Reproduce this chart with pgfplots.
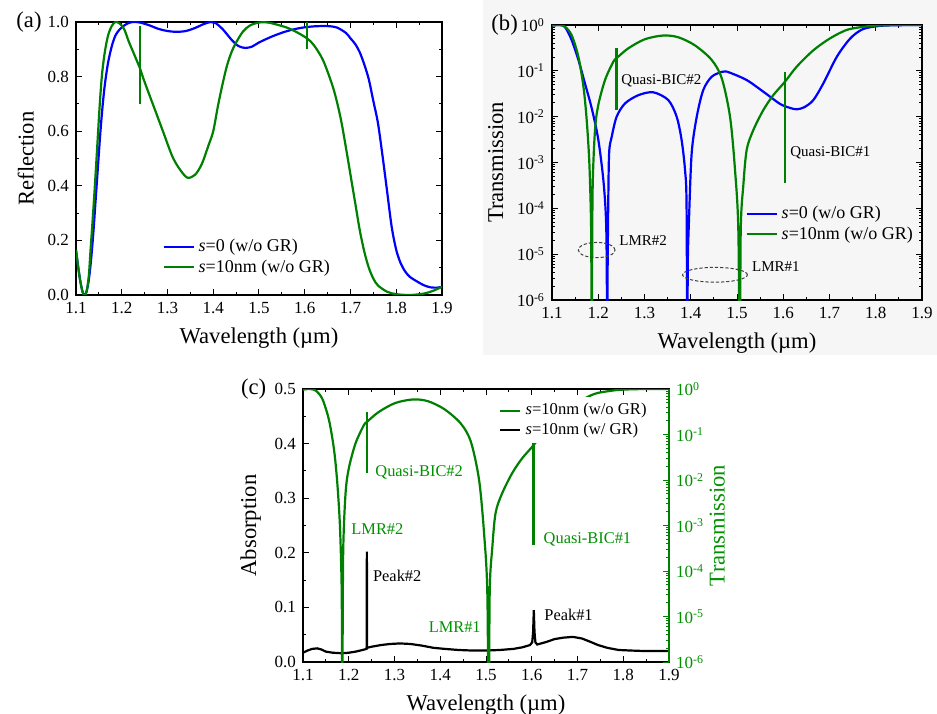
\documentclass[border=0pt]{standalone}
\usepackage{pgfplots}
\pgfplotsset{compat=1.18}
\usepackage{pgfplotstable}
\usepackage{fontspec}
\setmainfont{Liberation Serif}

\definecolor{cblue}{RGB}{0,0,255}
\definecolor{cgreen}{RGB}{0,128,0}
\definecolor{tgreen}{RGB}{0,145,0}
\definecolor{panelgray}{RGB}{246,246,246}

% (a) reflection
\pgfplotstableread{
x y
1.100 0.165
1.105 0.100
1.110 0.045
1.115 0.008
1.119 0.000
1.123 0.012
1.128 0.055
1.133 0.130
1.138 0.230
1.143 0.350
1.148 0.470
1.153 0.590
1.158 0.690
1.163 0.770
1.170 0.850
1.178 0.910
1.186 0.950
1.195 0.972
1.205 0.987
1.215 0.996
1.225 1.000
1.240 0.998
1.260 0.988
1.280 0.975
1.300 0.967
1.320 0.964
1.340 0.967
1.360 0.978
1.380 0.993
1.395 1.000
1.405 0.996
1.420 0.975
1.440 0.935
1.455 0.912
1.470 0.905
1.485 0.910
1.500 0.925
1.530 0.948
1.560 0.966
1.590 0.978
1.620 0.984
1.650 0.985
1.670 0.980
1.690 0.960
1.700 0.940
1.710 0.920
1.720 0.890
1.730 0.845
1.740 0.790
1.750 0.710
1.760 0.630
1.770 0.510
1.780 0.380
1.790 0.250
1.800 0.165
1.810 0.115
1.820 0.085
1.830 0.066
1.845 0.050
1.860 0.036
1.875 0.028
1.890 0.027
1.900 0.030
}\reflA
\pgfplotstableread{
x y
1.100 0.165
1.105 0.100
1.110 0.045
1.115 0.008
1.119 0.000
1.123 0.012
1.128 0.070
1.132 0.170
1.137 0.290
1.142 0.420
1.147 0.560
1.152 0.700
1.157 0.810
1.163 0.890
1.170 0.950
1.178 0.985
1.186 1.000
1.195 0.995
1.205 0.975
1.215 0.930
1.225 0.890
1.235 0.850
1.240 0.830
1.250 0.780
1.270 0.690
1.290 0.600
1.310 0.510
1.325 0.465
1.343 0.430
1.360 0.440
1.375 0.480
1.390 0.550
1.400 0.600
1.410 0.690
1.420 0.770
1.430 0.840
1.440 0.890
1.450 0.925
1.465 0.965
1.480 0.987
1.500 0.998
1.520 0.998
1.540 0.990
1.560 0.980
1.580 0.965
1.605 0.940
1.620 0.915
1.640 0.860
1.660 0.770
1.670 0.710
1.680 0.635
1.690 0.540
1.700 0.440
1.710 0.340
1.720 0.240
1.730 0.160
1.740 0.100
1.750 0.060
1.760 0.035
1.780 0.012
1.800 0.003
1.830 0.000
1.860 0.005
1.880 0.015
1.900 0.030
}\reflB

% (b) transmission
\pgfplotstableread{
x y
1.100 0.98
1.115 1.0
1.125 0.97
1.130 0.85
1.1425 0.47
1.157 0.174
1.171 0.054
1.186 0.0151
1.200 3.2e-3
1.211 4.2e-4
1.2168 5.6e-5
1.2185 3.2e-6
1.2192 1e-8
1.2200 2e-6
1.2215 1e-4
1.2235 1.6e-3
1.229 3.6e-3
1.2398 0.010
1.258 0.0195
1.287 0.0295
1.319 0.034
1.3515 0.023
1.3695 0.010
1.380 3.2e-3
1.3876 6.9e-4
1.391 1e-4
1.3926 1e-8
1.3935 5e-6
1.3962 5.6e-5
1.402 1.6e-3
1.413 0.010
1.427 0.038
1.445 0.074
1.467 0.095
1.475 0.097
1.4849 0.091
1.521 0.063
1.557 0.035
1.593 0.019
1.615 0.0155
1.629 0.0145
1.645 0.016
1.665 0.023
1.687 0.054
1.716 0.204
1.745 0.51
1.772 0.81
1.808 0.955
1.850 0.99
1.900 1.0
}\transA
\pgfplotstableread{
x y
1.100 0.97
1.115 1.0
1.128 0.92
1.1425 0.60
1.157 0.204
1.168 0.045
1.175 8.5e-3
1.1807 1e-3
1.1843 5.6e-5
1.1852 3e-6
1.1858 1e-8
1.1866 3e-6
1.188 3.2e-4
1.193 5.1e-3
1.200 0.0178
1.2146 0.063
1.2326 0.158
1.240 0.19
1.265 0.31
1.301 0.49
1.3407 0.59
1.373 0.54
1.409 0.36
1.445 0.174
1.467 0.069
1.4849 0.010
1.4957 6.9e-4
1.5030 3e-5
1.5060 1e-8
1.5080 3e-5
1.5137 3.2e-4
1.521 1.9e-3
1.5353 5.1e-3
1.557 0.014
1.5785 0.0295
1.6038 0.058
1.629 0.123
1.665 0.28
1.701 0.51
1.737 0.78
1.772 0.91
1.800 0.97
1.850 1.0
1.900 1.0
}\transB

% (c) absorption with graphene
\pgfplotstableread{
x y
1.100 0.017
1.110 0.021
1.120 0.024
1.131 0.025
1.140 0.023
1.150 0.019
1.165 0.017
1.185 0.016
1.200 0.017
1.215 0.019
1.230 0.022
1.2390 0.024
1.2396 0.202
1.2402 0.026
1.250 0.028
1.270 0.031
1.290 0.033
1.312 0.034
1.335 0.033
1.360 0.030
1.385 0.026
1.410 0.024
1.440 0.022
1.470 0.021
1.500 0.021
1.530 0.022
1.560 0.024
1.580 0.027
1.596 0.031
1.601 0.036
1.603 0.055
1.6045 0.095
1.606 0.055
1.608 0.036
1.612 0.032
1.633 0.037
1.650 0.042
1.669 0.0446
1.690 0.046
1.710 0.043
1.728 0.037
1.745 0.031
1.765 0.026
1.790 0.022
1.816 0.021
1.850 0.020
1.900 0.020
}\absC

\pgfplotsset{
  panel/.style={
    scale only axis,
    xmin=1.1, xmax=1.9,
    xtick={1.1,1.2,1.3,1.4,1.5,1.6,1.7,1.8,1.9},
    minor x tick num=1,
    tick align=inside,
    major tick length=3pt, minor tick length=1.6pt,
    axis line style={line width=0.6pt},
    every tick/.style={black, line width=0.5pt},
    tick label style={font=\fontsize{8.5}{10}\selectfont},
    label style={font=\fontsize{11.3}{13}\selectfont},
    xlabel={Wavelength (µm)},
    xticklabel style={/pgf/number format/.cd, fixed, fixed zerofill, precision=1, assume math mode=true},
    legend cell align=left,
    legend style={draw=none, fill=none, inner sep=0pt,
      font=\fontsize{9}{10.5}\selectfont, row sep=-1.5pt},
  },
  lin/.style={
    yticklabel style={/pgf/number format/.cd, fixed, fixed zerofill, precision=1, assume math mode=true},
  },
  curve/.style={line width=1.1pt, smooth, tension=0.5},
  lline/.style={legend image code/.code={\draw[##1] (0pt,0pt) -- (15pt,0pt);}},
}

\begin{document}
\begin{tikzpicture}
\useasboundingbox (0,0) rectangle (468.5pt,356.5pt);
\fill[panelgray] (241.5pt,179pt) rectangle (468.5pt,356.5pt);

%---------------- (a)
\begin{axis}[panel, lin, lline, at={(38pt,209pt)}, width=183pt, height=136.5pt,
  ymin=0, ymax=1, ytick={0,0.2,0.4,0.6,0.8,1}, minor y tick num=1,
  ylabel={Reflection},
  legend style={at={(0.235,0.139)}, anchor=west}]
\addplot[curve, cblue] table {\reflA};
\addlegendentry{\textit{s}=0 (w/o GR)}
\addplot[curve, cgreen] table {\reflB};
\addlegendentry{\textit{s}=10nm (w/o GR)}
\addplot[cgreen, line width=1.1pt, forget plot] coordinates {(1.240,0.987) (1.240,0.700)};
\addplot[cgreen, line width=1.1pt, forget plot] coordinates {(1.6055,1.0) (1.6055,0.900)};
\end{axis}
\node[font=\fontsize{11.3}{13}\selectfont] at (14.5pt,345.5pt) {(a)};

%---------------- (b)
\begin{axis}[panel, lline, at={(276pt,206.5pt)}, width=185pt, height=137.5pt,
  ymode=log, ymin=1e-6, ymax=1,
  ytick={1e-6,1e-5,1e-4,1e-3,1e-2,1e-1,1},
  minor ytick={2e-6,3e-6,4e-6,5e-6,6e-6,7e-6,8e-6,9e-6,
    2e-5,3e-5,4e-5,5e-5,6e-5,7e-5,8e-5,9e-5,
    2e-4,3e-4,4e-4,5e-4,6e-4,7e-4,8e-4,9e-4,
    2e-3,3e-3,4e-3,5e-3,6e-3,7e-3,8e-3,9e-3,
    0.02,0.03,0.04,0.05,0.06,0.07,0.08,0.09,
    0.2,0.3,0.4,0.5,0.6,0.7,0.8,0.9},
  yticklabels={10\textsuperscript{-6},10\textsuperscript{-5},10\textsuperscript{-4},10\textsuperscript{-3},10\textsuperscript{-2},10\textsuperscript{-1},10\textsuperscript{0}},
  ylabel={Transmission},
  legend style={at={(0.522,0.276)}, anchor=west}]
\addplot[curve, cblue] table {\transA};
\addlegendentry{\textit{s}=0 (w/o GR)}
\addplot[curve, cgreen] table {\transB};
\addlegendentry{\textit{s}=10nm (w/o GR)}
\addplot[cgreen, line width=1.1pt, forget plot] coordinates {(1.2395,0.31) (1.2395,0.0141)};
\addplot[cgreen, line width=1.1pt, forget plot] coordinates {(1.6038,0.095) (1.6038,3.5e-4)};
\node[anchor=west, inner sep=0pt, font=\fontsize{7.5}{9}\selectfont] at (axis cs:1.249,0.060) {Quasi-BIC\#2};
\node[anchor=west, inner sep=0pt, font=\fontsize{7.5}{9}\selectfont] at (axis cs:1.6146,1.6e-3) {Quasi-BIC\#1};
\node[anchor=west, inner sep=0pt, font=\fontsize{7.5}{9}\selectfont] at (axis cs:1.245,2.0e-5) {LMR\#2};
\node[anchor=west, inner sep=0pt, font=\fontsize{7.5}{9}\selectfont] at (axis cs:1.532,5.4e-6) {LMR\#1};
\draw[black!75, line width=0.5pt, dash pattern=on 1.6pt off 1pt] (axis cs:1.1966,1.23e-5) ellipse [x radius=9.2pt, y radius=3.8pt];
\draw[black!75, line width=0.5pt, dash pattern=on 1.6pt off 1pt] (axis cs:1.4524,3.55e-6) ellipse [x radius=16.2pt, y radius=3.7pt];
\end{axis}
\node[font=\fontsize{11.3}{13}\selectfont] at (252.3pt,344pt) {(b)};

%---------------- (c)
\begin{axis}[panel, lin, at={(151.5pt,25.5pt)}, width=183pt, height=136.5pt,
  ymin=0, ymax=0.5, ytick={0,0.1,0.2,0.3,0.4,0.5}, minor y tick num=1,
  ytick pos=left, ylabel={Absorption}]
\addplot[black, line width=1.1pt] table {\absC};
\node[anchor=west, inner sep=0pt, text=tgreen, font=\fontsize{8.2}{10}\selectfont] at (axis cs:1.2574,0.347) {Quasi-BIC\#2};
\node[anchor=west, inner sep=0pt, text=tgreen, font=\fontsize{8.2}{10}\selectfont] at (axis cs:1.205,0.2436) {LMR\#2};
\node[anchor=west, inner sep=0pt, text=tgreen, font=\fontsize{8.2}{10}\selectfont] at (axis cs:1.374,0.0647) {LMR\#1};
\node[anchor=west, inner sep=0pt, text=tgreen, font=\fontsize{8.2}{10}\selectfont] at (axis cs:1.6253,0.225) {Quasi-BIC\#1};
\node[anchor=west, inner sep=0pt, font=\fontsize{8.2}{10}\selectfont] at (axis cs:1.2523,0.158) {Peak\#2};
\node[anchor=west, inner sep=0pt, font=\fontsize{8.2}{10}\selectfont] at (axis cs:1.6268,0.087) {Peak\#1};
\end{axis}
\begin{axis}[scale only axis, at={(151.5pt,25.5pt)}, width=183pt, height=136.5pt,
  xmin=1.1, xmax=1.9,
  ymode=log, ymin=1e-6, ymax=1,
  ytick={1e-6,1e-5,1e-4,1e-3,1e-2,1e-1,1},
  minor ytick={2e-6,3e-6,4e-6,5e-6,6e-6,7e-6,8e-6,9e-6,
    2e-5,3e-5,4e-5,5e-5,6e-5,7e-5,8e-5,9e-5,
    2e-4,3e-4,4e-4,5e-4,6e-4,7e-4,8e-4,9e-4,
    2e-3,3e-3,4e-3,5e-3,6e-3,7e-3,8e-3,9e-3,
    0.02,0.03,0.04,0.05,0.06,0.07,0.08,0.09,
    0.2,0.3,0.4,0.5,0.6,0.7,0.8,0.9},
  yticklabels={10\textsuperscript{-6},10\textsuperscript{-5},10\textsuperscript{-4},10\textsuperscript{-3},10\textsuperscript{-2},10\textsuperscript{-1},10\textsuperscript{0}},
  axis x line=none, axis y line*=right,
  tick align=inside, major tick length=3pt, minor tick length=1.6pt,
  y axis line style={cgreen, line width=0.6pt},
  every tick/.style={cgreen, line width=0.5pt},
  yticklabel style={text=tgreen, font=\fontsize{8.5}{10}\selectfont},
  ylabel={Transmission}, ylabel shift=-4pt,
  ylabel style={text=tgreen, font=\fontsize{11.3}{13}\selectfont},
  legend cell align=left,
  legend image code/.code={\draw[#1] (0pt,0pt) -- (10pt,0pt);},
  legend style={draw=none, fill=white, inner sep=1pt, at={(0.53,0.885)}, anchor=west,
    font=\fontsize{8.3}{10}\selectfont, row sep=-1.5pt}]
\addplot[curve, cgreen] table {\transB};
\addlegendentry{\textit{s}=10nm (w/o GR)}
\addlegendimage{black, line width=1.1pt}
\addlegendentry{\textit{s}=10nm (w/ GR)}
\addplot[cgreen, line width=1.1pt, forget plot] coordinates {(1.2400,0.316) (1.2400,0.0141)};
\addplot[cgreen, line width=1.1pt, forget plot] coordinates {(1.6040,0.069) (1.6040,3.7e-4)};
\end{axis}
\node[font=\fontsize{11.3}{13}\selectfont] at (126.8pt,162pt) {(c)};
\end{tikzpicture}
\end{document}
